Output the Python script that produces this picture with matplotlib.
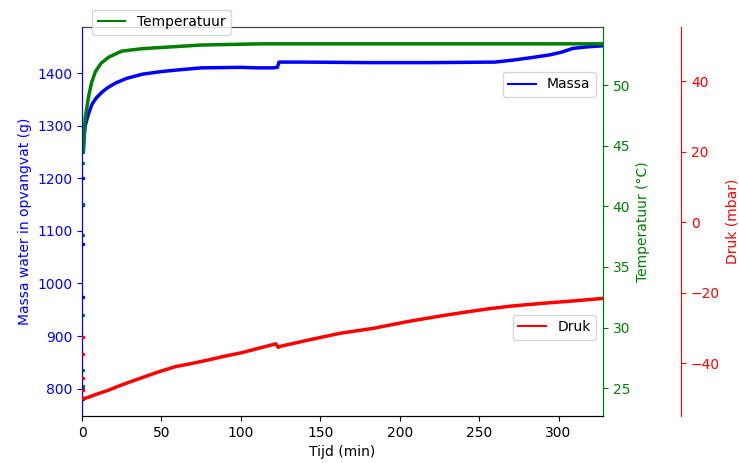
import numpy as np
import matplotlib
matplotlib.use("Agg")
import matplotlib.pyplot as plt

# start-up samples at t ~ 0 (shown as loose dots)
t_start = [0.8, 0.8, 0.8, 0.8, 0.8, 0.8]
massa_start = [800, 975, 1075, 1150, 1200, 780]
temp_start = [25.2, 26.5, 31.0, 37.6, 40.2, 43.6]
druk_start = [-32.5, -37.4, -44.3, -47.7, -50.0, -50.0]

# mass in collection vessel (g)
t_massa = [0.8, 1.2, 2, 4, 6.3, 9, 12.6, 16, 21, 28, 38, 50, 60, 75, 100, 110, 120,
           123, 124, 140, 180, 220, 260, 272, 284, 295, 302, 309, 318, 328]
massa = [1250, 1274, 1300, 1322, 1341, 1353, 1364, 1372, 1381, 1390, 1398, 1403, 1406,
         1410, 1411, 1410, 1410, 1411, 1421, 1421, 1420, 1420, 1421, 1425, 1430, 1435,
         1440, 1447, 1450, 1452]

# temperature (degC)
t_temp = [0.8, 1.2, 2, 4.2, 6, 8.4, 12, 16.8, 25, 38, 50, 75, 113, 150, 200, 250, 300, 328]
temp = [44.5, 45.6, 47.3, 49.1, 50.2, 51.1, 51.8, 52.3, 52.8, 53.0, 53.1, 53.3, 53.4,
        53.4, 53.4, 53.4, 53.4, 53.4]

# pressure (mbar)
t_druk = [0.8, 1.9, 8, 16.4, 26, 37.8, 48, 58.6, 70, 79.4, 90, 100.8, 110, 120.4, 122,
          123.5, 125, 141.8, 162.6, 183.4, 204.8, 225.6, 240, 255.2, 270, 290, 310, 328]
druk = [-50.0, -50.0, -49.0, -47.7, -46.0, -44.1, -42.5, -41.0, -40.0, -39.1, -38.0,
        -37.0, -35.9, -34.7, -34.5, -35.5, -35.2, -33.5, -31.5, -30.1, -28.2, -26.6,
        -25.6, -24.6, -23.8, -23.0, -22.3, -21.6]

fig, ax1 = plt.subplots(figsize=(7.39, 4.63), dpi=100)
fig.subplots_adjust(left=0.111, right=0.816, top=0.942, bottom=0.1015)
ax2 = ax1.twinx()
ax3 = ax1.twinx()
ax3.spines['right'].set_position(('axes', 1.15))

ax1.plot(t_massa, massa, color='blue', lw=2.5, label='Massa')
ax1.plot(t_start, massa_start, '.', color='blue', ms=3)
ax2.plot(t_temp, temp, color='green', lw=2.5, label='Temperatuur')
ax2.plot(t_start, temp_start, '.', color='green', ms=3)
ax3.plot(t_druk, druk, color='red', lw=2.5, label='Druk')
ax3.plot(t_start, druk_start, '.', color='red', ms=3)

ax1.set_xlim(0, 328)
ax1.set_ylim(748, 1488)
ax2.set_ylim(22.7, 54.8)
ax3.set_ylim(-55, 55.5)

ax1.set_xlabel('Tijd (min)')
ax1.set_ylabel('Massa water in opvangvat (g)', color='blue')
ax2.set_ylabel('Temperatuur (°C)', color='green')
ax3.set_ylabel('Druk (mbar)', color='red')

ax1.tick_params(axis='y', colors='blue')
ax2.tick_params(axis='y', colors='green')
ax3.tick_params(axis='y', colors='red')
for ax in (ax1, ax2, ax3):
    ax.spines['left'].set_color('blue')
    ax.spines['top'].set_color('#444444')
ax1.spines['right'].set_color('green')
ax2.spines['right'].set_color('green')
ax3.spines['right'].set_color('red')
ax3.spines['left'].set_visible(False)
ax3.spines['top'].set_visible(False)
ax3.spines['bottom'].set_visible(False)

legs = [ax1.legend(loc='upper right', bbox_to_anchor=(1.0, 0.902)),
        ax2.legend(loc='upper left', bbox_to_anchor=(0.006, 1.062)),
        ax3.legend(loc='upper right', bbox_to_anchor=(1.0, 0.278))]
for leg in legs:
    for ln in leg.get_lines():
        ln.set_linewidth(1.5)

fig.savefig('out.png', dpi=100)
